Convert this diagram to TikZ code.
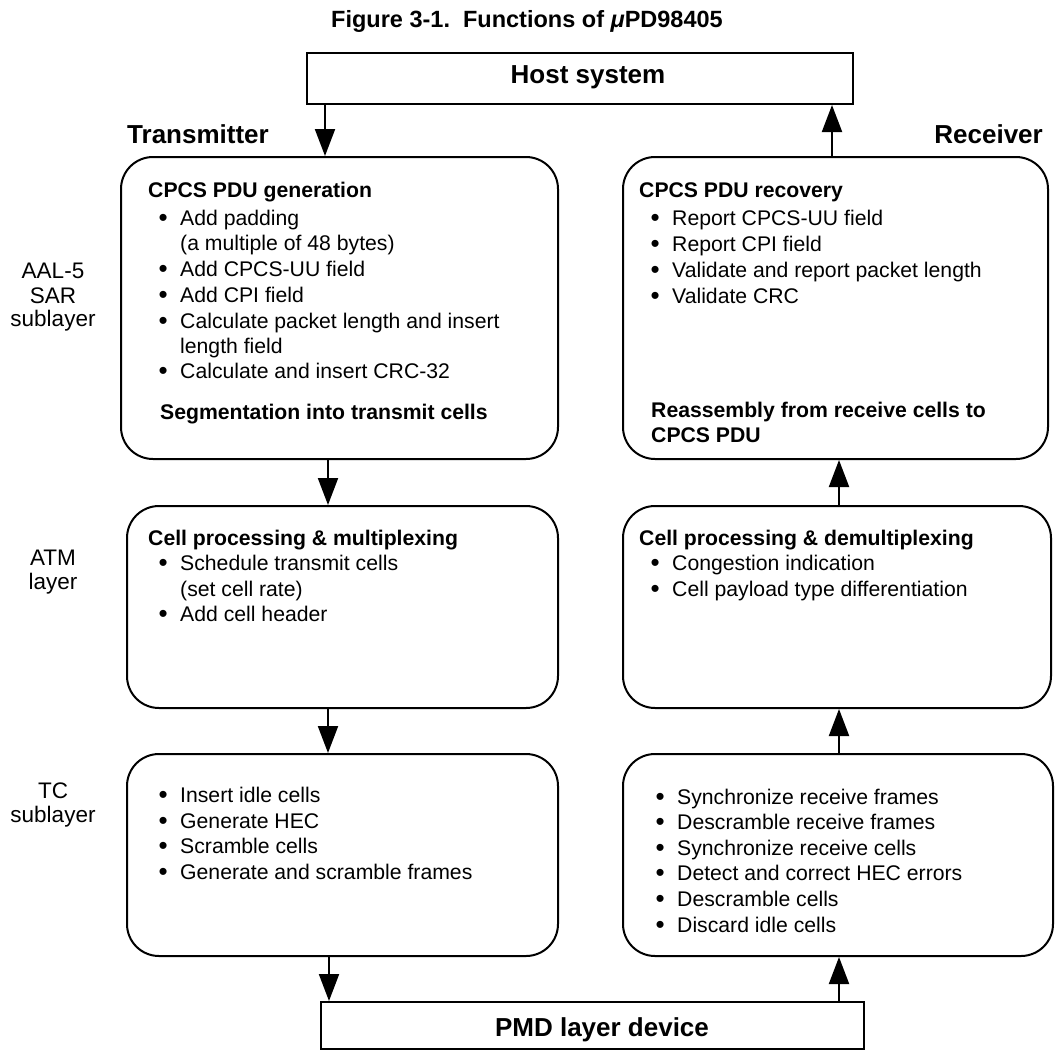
\documentclass[tikz,border=0pt]{standalone}
\usepackage{fontspec}
\setmainfont{Liberation Sans}
\usetikzlibrary{arrows.meta}
\newcommand\bul{\llap{\makebox[21.5pt][l]{\raisebox{-1.8pt}{\fontsize{26}{26}\selectfont\textbullet}}}}
\begin{document}
\begin{tikzpicture}[x=1pt,y=-1pt,
  stage/.style={draw, line width=2pt, rounded corners=32pt, anchor=north west, inner sep=0pt},
  ext/.style={draw, line width=2pt, anchor=north west, inner sep=0pt},
  flow/.style={line width=2pt, -{Triangle[length=27pt,width=20pt]}},
  body/.style={anchor=base west, inner sep=0pt, font=\fontsize{21.2}{25.5}\selectfont},
  head/.style={anchor=base west, inner sep=0pt, font=\fontsize{21.2}{25.5}\selectfont\bfseries},
  big/.style={anchor=base, inner sep=0pt, font=\fontsize{26}{30}\selectfont\bfseries},
  side/.style={anchor=base, inner sep=0pt, font=\fontsize{22.5}{26}\selectfont},
]
\useasboundingbox (0,0) rectangle (1055,1050);

% caption
\node[anchor=base, inner sep=0pt, font=\fontsize{23.5}{28}\selectfont\bfseries] (cap) at (527,27)
  {Figure 3-1.\ \ Functions of {\itshape μ}PD98405};

% outer blocks
\node[ext, minimum width=546pt, minimum height=51pt] (host) at (306,52) {};
\node[big] (hostT) at (588,83) {Host system};
\node[ext, minimum width=543pt, minimum height=47pt] (pmd) at (320,1001) {};
\node[big] (pmdT) at (602,1036) {PMD layer device};

% column headings
\node[big, anchor=base west] (txT) at (127,143) {Transmitter};
\node[big, anchor=base east] (rxT) at (1043,143) {Receiver};

% layer labels
\node[side] (s1) at (53,278) {AAL-5};
\node[side] (s2) at (53,303) {SAR};
\node[side] (s3) at (53,326) {sublayer};
\node[side] (s4) at (53,565) {ATM};
\node[side] (s5) at (53,589) {layer};
\node[side] (s6) at (53,798) {TC};
\node[side] (s7) at (53,822) {sublayer};

% transmitter stages
\node[stage, minimum width=437pt, minimum height=302pt] (gen) at (120,156) {};
\node[head] (g0) at (148,197) {CPCS PDU generation};
\node[body] (g1) at (180,225) {\bul Add padding};
\node[body] (g2) at (180,250) {(a multiple of 48 bytes)};
\node[body] (g3) at (180,276) {\bul Add CPCS-UU field};
\node[body] (g4) at (180,302) {\bul Add CPI field};
\node[body] (g5) at (180,328) {\bul Calculate packet length and insert};
\node[body] (g6) at (180,353) {length field};
\node[body] (g7) at (180,378) {\bul Calculate and insert CRC-32};
\node[head] (g8) at (160,419) {Segmentation into transmit cells};

\node[stage, minimum width=431pt, minimum height=202pt] (mux) at (126,505) {};
\node[head] (m0) at (148,545) {Cell processing \& multiplexing};
\node[body] (m1) at (180,570) {\bul Schedule transmit cells};
\node[body] (m2) at (180,596) {(set cell rate)};
\node[body] (m3) at (180,621) {\bul Add cell header};

\node[stage, minimum width=431pt, minimum height=202pt] (tcx) at (126,753) {};
\node[body] (t1) at (180,802) {\bul Insert idle cells};
\node[body] (t2) at (180,828) {\bul Generate HEC};
\node[body] (t3) at (180,853) {\bul Scramble cells};
\node[body] (t4) at (180,879) {\bul Generate and scramble frames};

% receiver stages
\node[stage, minimum width=425pt, minimum height=302pt] (rec) at (622,156) {};
\node[head] (r0) at (639,197) {CPCS PDU recovery};
\node[body] (r1) at (672,225) {\bul Report CPCS-UU field};
\node[body] (r2) at (672,251) {\bul Report CPI field};
\node[body] (r3) at (672,277) {\bul Validate and report packet length};
\node[body] (r4) at (672,303) {\bul Validate CRC};
\node[head] (r5) at (651,417) {Reassembly from receive cells to};
\node[head] (r6) at (651,442) {CPCS PDU};

\node[stage, minimum width=428pt, minimum height=202pt] (dmx) at (622,505) {};
\node[head] (d0) at (639,545) {Cell processing \& demultiplexing};
\node[body] (d1) at (672,570) {\bul Congestion indication};
\node[body] (d2) at (672,596) {\bul Cell payload type differentiation};

\node[stage, minimum width=430pt, minimum height=202pt] (tcr) at (622,753) {};
\node[body] (u1) at (677,804) {\bul Synchronize receive frames};
\node[body] (u2) at (677,829) {\bul Descramble receive frames};
\node[body] (u3) at (677,855) {\bul Synchronize receive cells};
\node[body] (u4) at (677,880) {\bul Detect and correct HEC errors};
\node[body] (u5) at (677,906) {\bul Descramble cells};
\node[body] (u6) at (677,932) {\bul Discard idle cells};

% connector columns
\coordinate (xa) at (325,0);
\coordinate (xb) at (328,0);
\coordinate (xc) at (329,0);
\coordinate (xd) at (839,0);
\coordinate (xe) at (832,0);

% transmit path
\draw[flow] (xa |- host.south) -- (xa |- gen.north);
\draw[flow] (xb |- gen.south) -- (xb |- mux.north);
\draw[flow] (xb |- mux.south) -- (xb |- tcx.north);
\draw[flow] (xc |- tcx.south) -- (xc |- pmd.north);

% receive path
\draw[flow] (xd |- pmd.north) -- (xd |- tcr.south);
\draw[flow] (xd |- tcr.north) -- (xd |- dmx.south);
\draw[flow] (xd |- dmx.north) -- (xd |- rec.south);
\draw[flow] (xe |- rec.north) -- (xe |- host.south);
\end{tikzpicture}
\end{document}
